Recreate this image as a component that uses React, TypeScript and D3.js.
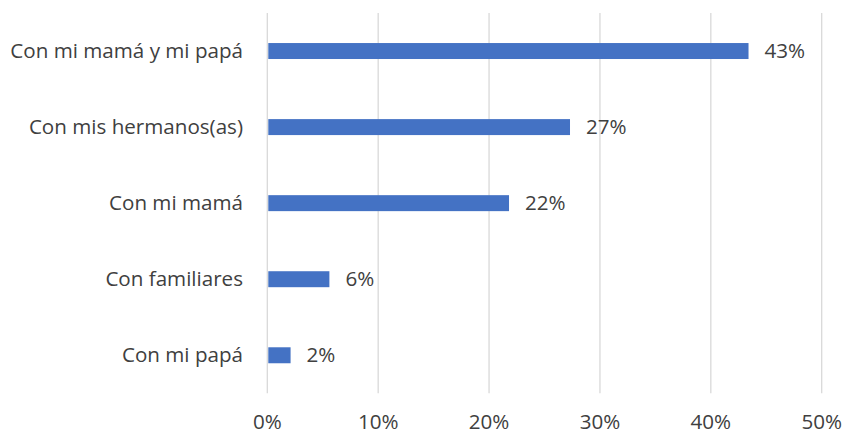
import React from "react";
import * as d3 from "d3";

const categories = ["Con mi mamá y mi papá", "Con mis hermanos(as)", "Con mi mamá", "Con familiares", "Con mi papá"];
const values = [43.4, 27.3, 21.8, 5.6, 2.1];
const valueLabels = ["43%", "27%", "22%", "6%", "2%"];
const ticks = [0, 10, 20, 30, 40, 50];

const W = 843;
const H = 435;
const M = { left: 267.3, right: 21.3, top: 13, bottom: 41.7 };

export default function App() {
  const x = d3.scaleLinear().domain([0, 50]).range([M.left, W - M.right]);
  const y = d3.scaleBand().domain(categories).range([M.top, H - M.bottom]).paddingInner(0.79).paddingOuter(0.395);
  const font = "'Open Sans', sans-serif";
  const fs = 20.6;
  return (
    <svg width={W} height={H} style={{ position: "absolute", left: 0, top: 0 }}>
      <rect width={W} height={H} fill="#fff" />
      {ticks.map((t) => (
        <line key={t} x1={x(t)} x2={x(t)} y1={M.top} y2={H - M.bottom} stroke="#d9d9d9" strokeWidth={1.3} />
      ))}
      {categories.map((c, i) => {
        const cy = (y(c) as number) + y.bandwidth() / 2;
        return (
          <g key={c}>
            <rect x={x(0) + 1} y={y(c)} width={x(values[i]) - x(0) - 1} height={y.bandwidth()} fill="#4472c4" />
            <text x={243} y={cy} dy="0.35em" textAnchor="end" fontFamily={font} fontSize={fs} fill="#404040">{c}</text>
            <text x={x(values[i]) + 16} y={cy} dy="0.35em" textAnchor="start" fontFamily={font} fontSize={fs} fill="#404040">{valueLabels[i]}</text>
          </g>
        );
      })}
      {ticks.map((t) => (
        <text key={t} x={x(t)} y={428.5} textAnchor="middle" fontFamily={font} fontSize={fs} fill="#404040">{t}%</text>
      ))}
    </svg>
  );
}
